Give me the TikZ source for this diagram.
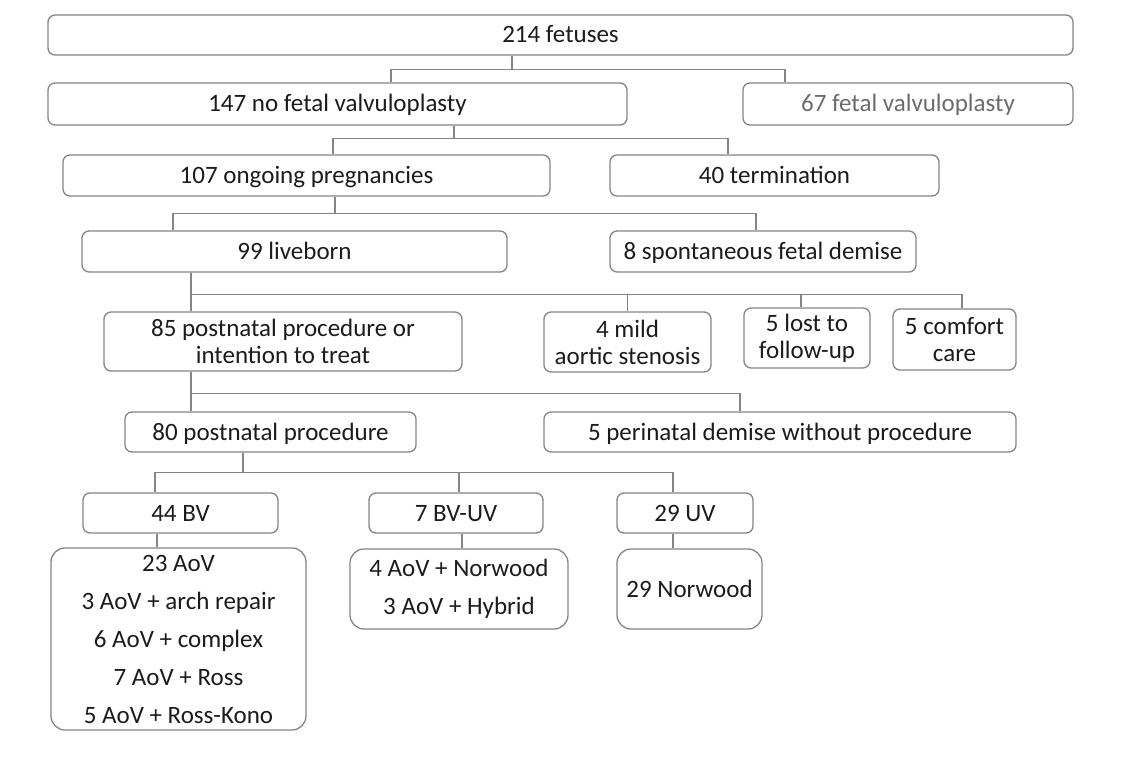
\documentclass[tikz,border=0pt]{standalone}
\usepackage{fontspec}
\setmainfont{Carlito}
\usepackage{tikz}
\definecolor{edge}{HTML}{858585}
\definecolor{ink}{HTML}{1C1C1C}
\tikzstyle{cbox}=[rectangle,draw=edge,line width=1.3pt,rounded corners=7pt,fill=white,align=center,text=ink,inner sep=2pt,font=\fontsize{25}{27}\selectfont]
\tikzstyle{grp}=[cbox,text height=19pt,text depth=3pt]
\tikzstyle{sub}=[cbox,rounded corners=14pt,font=\fontsize{25}{38}\selectfont]
\tikzstyle{con}=[draw=edge,line width=1.3pt]

\begin{document}
\begin{tikzpicture}[x=1pt,y=-1pt]
\useasboundingbox[fill=white] (0,0) rectangle (1135,759);
\node[grp,minimum width=1025pt,minimum height=40pt] (fetus) at (560.5,35) {214 fetuses};
\node[grp,minimum width=579pt,minimum height=42pt] (nofv) at (337.5,104) {147 no fetal valvuloplasty};
\node[grp,minimum width=330pt,minimum height=42pt,text=gray!85!black] (fv) at (908,104) {67 fetal valvuloplasty};
\node[grp,minimum width=487pt,minimum height=41pt] (ongoing) at (306.5,175.5) {107 ongoing pregnancies};
\node[grp,minimum width=329pt,minimum height=41pt] (termin) at (774.5,175.5) {40 termination};
\node[grp,minimum width=425pt,minimum height=41pt] (liveborn) at (294.5,251.5) {99 liveborn};
\node[grp,minimum width=306pt,minimum height=41pt] (fdemise) at (763,251.5) {8 spontaneous fetal demise};
\node[cbox,minimum width=358pt,minimum height=59pt] (intent) at (283,341.5) {85 postnatal procedure or\\intention to treat};
\node[cbox,minimum width=167pt,minimum height=60pt] (mild) at (627.5,342) {4 mild\\aortic stenosis};
\node[cbox,minimum width=126pt,minimum height=60pt] (lost) at (807,338) {5 lost to\\follow-up};
\node[cbox,minimum width=123pt,minimum height=61pt] (comfort) at (954.5,339.5) {5 comfort\\care};
\node[grp,minimum width=291pt,minimum height=40pt] (postproc) at (270.5,432) {80 postnatal procedure};
\node[grp,minimum width=472pt,minimum height=40pt] (pdemise) at (780,432) {5 perinatal demise without procedure};
\node[grp,minimum width=195pt,minimum height=40pt] (bv) at (180.5,513) {44 BV};
\node[grp,minimum width=174pt,minimum height=40pt] (bvuv) at (456,513) {7 BV-UV};
\node[grp,minimum width=136pt,minimum height=40pt] (uv) at (685,513) {29 UV};
\node[sub,minimum width=255pt,minimum height=182pt] (bvops) at (178.5,639) {23 AoV\\3 AoV + arch repair\\6 AoV + complex\\7 AoV + Ross\\5 AoV + Ross-Kono};
\node[sub,minimum width=218pt,minimum height=80pt] (bvuvops) at (459,589) {4 AoV + Norwood\\3 AoV + Hybrid};
\node[sub,minimum width=145pt,minimum height=80pt] (uvops) at (689.5,589) {29 Norwood};
\path[con] ([xshift=-48.5pt]fetus.south) -- ++(0,14) -| ([xshift=53.5pt]nofv.north);
\path[con] ([xshift=-48.5pt]fetus.south) -- ++(0,14) -| ([xshift=-123pt]fv.north);
\path[con] ([xshift=116.5pt]nofv.south) -- ++(0,13) -| ([xshift=26.5pt]ongoing.north);
\path[con] ([xshift=116.5pt]nofv.south) -- ++(0,13) -| ([xshift=-46.5pt]termin.north);
\path[con] ([xshift=28.5pt]ongoing.south) -- ++(0,17) -| ([xshift=-121.5pt]liveborn.north);
\path[con] ([xshift=28.5pt]ongoing.south) -- ++(0,17) -| ([xshift=-7pt]fdemise.north);
\path[con] ([xshift=-103.5pt]liveborn.south) -- ([xshift=-92pt]intent.north);
\path[con] ([xshift=-103.5pt]liveborn.south) -- ++(0,22) -| (mild.north);
\path[con] ([xshift=-103.5pt]liveborn.south) -- ++(0,22) -| ([xshift=-6pt]lost.north);
\path[con] ([xshift=-103.5pt]liveborn.south) -- ++(0,22) -| ([xshift=7.5pt]comfort.north);
\path[con] ([xshift=-92pt]intent.south) -- ([xshift=-79.5pt]postproc.north);
\path[con] ([xshift=-92pt]intent.south) -- ++(0,22) -| ([xshift=-40pt]pdemise.north);
\path[con] ([xshift=-27.5pt]postproc.south) -- ++(0,20) -| ([xshift=-25.5pt]bv.north);
\path[con] ([xshift=-27.5pt]postproc.south) -- ++(0,20) -| ([xshift=3pt]bvuv.north);
\path[con] ([xshift=-27.5pt]postproc.south) -- ++(0,20) -| ([xshift=-12pt]uv.north);
\path[con] ([xshift=-23.5pt]bv.south) -- ([xshift=-21.5pt]bvops.north);
\path[con] ([xshift=6pt]bvuv.south) -- ([xshift=3pt]bvuvops.north);
\path[con] ([xshift=-12pt]uv.south) -- ([xshift=-16.5pt]uvops.north);
\end{tikzpicture}
\end{document}
